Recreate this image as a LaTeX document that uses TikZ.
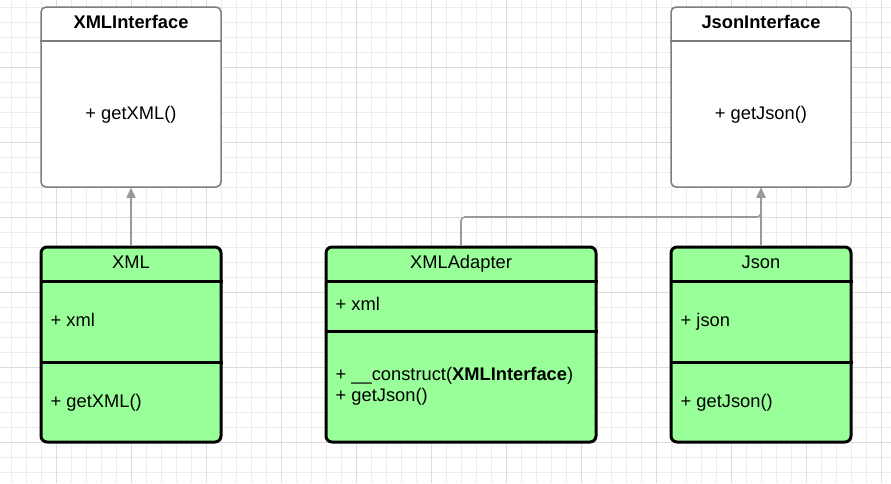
\documentclass[tikz,border=0pt]{standalone}
\usepackage{fontspec}
\setmainfont{Liberation Sans}
\usetikzlibrary{arrows.meta}
\definecolor{gridminor}{RGB}{236,236,236}
\definecolor{gridmajor}{RGB}{220,220,220}
\definecolor{classgreen}{RGB}{153,255,153}
\definecolor{ifborder}{RGB}{125,125,125}
\definecolor{conncol}{RGB}{153,153,153}
\begin{document}
\begin{tikzpicture}[x=1pt,y=-1pt,
  ifbox/.style={draw=ifborder, fill=white, line width=1.5pt, rounded corners=5pt, minimum width=180pt, minimum height=180pt, inner sep=0pt},
  classbox/.style={draw=black, fill=classgreen, line width=3pt, rounded corners=6pt, minimum height=195pt, inner sep=0pt},
  ifsep/.style={draw=ifborder, line width=1.5pt},
  classsep/.style={draw=black, line width=3pt},
  conn/.style={draw=conncol, line width=1.6pt, -{Triangle[width=9pt,length=10pt]}},
  txt/.style={font=\fontsize{18.3}{22}\selectfont, inner sep=0pt, text=black},
  ctxt/.style={txt, anchor=base},
  ltxt/.style={txt, anchor=base west},
  gminor/.style={draw=gridminor, line width=1pt},
  gmajor/.style={draw=gridmajor, line width=1pt}
]
\useasboundingbox (0,0) rectangle (891,483);
\fill[white] (0,0) rectangle (891,483);
% grid
\foreach \i in {0,...,58} \draw[gminor] ({11.7+15*\i},0) -- ({11.7+15*\i},483);
\foreach \j in {0,...,31} \draw[gminor] (0,{7.3+15*\j}) -- (891,{7.3+15*\j});
\foreach \i in {0,...,11} \draw[gmajor] ({56.7+75*\i},0) -- ({56.7+75*\i},483);
\foreach \j in {0,...,5} \draw[gmajor] (0,{67.3+75*\j}) -- (891,{67.3+75*\j});

% interface boxes
\node[ifbox] (xmlif) at (131,97) {};
\node[ifbox] (jsonif) at (761,97) {};
\draw[ifsep] (xmlif.west |- 0,41) -- (xmlif.east |- 0,41);
\draw[ifsep] (jsonif.west |- 0,41) -- (jsonif.east |- 0,41);
\node[ctxt, font=\fontsize{18.3}{22}\selectfont\bfseries] (xmlift) at (131,28) {XMLInterface};
\node[ctxt] (xmlifm) at (131,119.5) {+ getXML()};
\node[ctxt, font=\fontsize{18.3}{22}\selectfont\bfseries] (jsonift) at (761,28) {JsonInterface};
\node[ctxt] (jsonifm) at (761,119.5) {+ getJson()};

% class boxes
\node[classbox, minimum width=180pt] (xml) at (131,344.5) {};
\node[classbox, minimum width=270pt] (xmla) at (461,344.5) {};
\node[classbox, minimum width=180pt] (json) at (761,344.5) {};

\draw[classsep] (xml.west |- 0,281) -- (xml.east |- 0,281);
\draw[classsep] (xml.west |- 0,362) -- (xml.east |- 0,362);
\draw[classsep] (xmla.west |- 0,281) -- (xmla.east |- 0,281);
\draw[classsep] (xmla.west |- 0,331) -- (xmla.east |- 0,331);
\draw[classsep] (json.west |- 0,281) -- (json.east |- 0,281);
\draw[classsep] (json.west |- 0,362) -- (json.east |- 0,362);

\node[ctxt] (xmlt) at (131,268) {XML};
\node[ltxt] (xmla1) at (50.5,326) {+ xml};
\node[ltxt] (xmlm1) at (50.5,407) {+ getXML()};

\node[ctxt] (xmlat) at (461,268) {XMLAdapter};
\node[ltxt] (xmlaa1) at (335.5,310) {+ xml};
\node[ltxt] (xmlam1) at (335.5,380) {+ \_\_construct(\textbf{XMLInterface})};
\node[ltxt] (xmlam2) at (335.5,401) {+ getJson()};

\node[ctxt] (jsont) at (761,268) {Json};
\node[ltxt] (jsona1) at (680.5,326) {+ json};
\node[ltxt] (jsonm1) at (680.5,407) {+ getJson()};

% connectors
\coordinate (bend) at (761,217);
\draw[conn] (xml.north) -- (xmlif.south);
\draw[conn] (json.north) -- (jsonif.south);
\draw[conn, rounded corners=4pt] (xmla.north) |- (bend) -- (jsonif.south);
\end{tikzpicture}
\end{document}
